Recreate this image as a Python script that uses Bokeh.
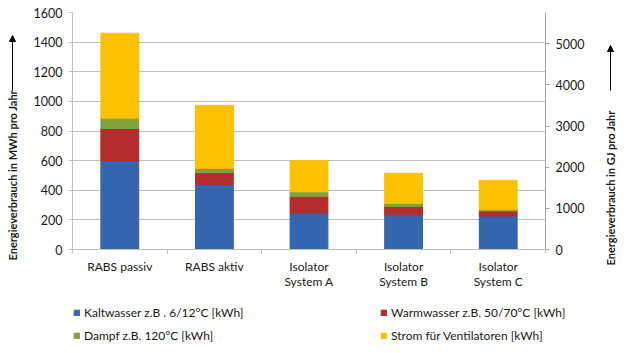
import math
from bokeh.plotting import figure
from bokeh.layouts import column, row
from bokeh.models import (Range1d, LinearAxis, FixedTicker, Legend, LegendItem,
                          Label, Arrow, NormalHead)
from bokeh.embed import file_html
from bokeh.resources import INLINE

categories = ["RABS passiv", "RABS aktiv", "Isolator\nSystem A", "Isolator\nSystem B", "Isolator\nSystem C"]
kaltwasser = [600, 440, 246, 235, 226]
warmwasser = [217, 79, 113, 56, 34]
dampf = [70, 29, 31, 20, 9]
strom = [573, 425, 210, 203, 198]
series_names = ["Kaltwasser z.B . 6/12°C [kWh]", "Warmwasser z.B. 50/70°C [kWh]",
                "Dampf z.B. 120°C [kWh]", "Strom für Ventilatoren [kWh]"]
left_ticks = [0, 200, 400, 600, 800, 1000, 1200, 1400, 1600]
right_ticks = [0, 1000, 2000, 3000, 4000, 5000]
left_title = "Energieverbrauch in MWh pro Jahr"
right_title = "Energieverbrauch in GJ pro Jahr"

colors = ["#3466AE", "#B32E2C", "#83A23E", "#FFC000"]
FONT = "Lato"
TXT = "#1a1a1a"

n = len(categories)
xs = [i + 0.5 for i in range(n)]
data = {"x": xs, "k": kaltwasser, "w": warmwasser, "d": dampf, "s": strom}


def no_align(fig):
    try:
        fig.frame_align = False
    except Exception:
        pass


def blank(width, height):
    f = figure(width=width, height=height, output_backend="svg", toolbar_location=None,
               x_range=Range1d(0, 1), y_range=Range1d(0, 1), min_border=0,
               x_axis_type=None, y_axis_type=None)
    f.outline_line_color = None
    f.grid.grid_line_color = None
    no_align(f)
    return f


def title_fig(width, height, text, tx, ty, a0, a1):
    f = blank(width, height)
    f.add_layout(Label(x=tx, y=ty, x_units="screen", y_units="screen", text=text,
                       angle=math.pi / 2, text_align="left", text_baseline="middle",
                       text_font=FONT, text_font_style="bold", text_font_size="11px",
                       text_color=TXT))
    f.add_layout(Arrow(x_start=tx, y_start=a0, x_end=tx, y_end=a1,
                       start_units="screen", end_units="screen", line_width=1,
                       line_color="black",
                       end=NormalHead(size=6, fill_color="black", line_color="black")))
    return f


p = figure(width=564, height=300, output_backend="svg", toolbar_location=None,
           x_range=Range1d(0, n), y_range=Range1d(0, 1600),
           min_border_left=38, min_border_right=49, min_border_top=12, min_border_bottom=51)
p.outline_line_color = None
p.background_fill_color = "white"
p.border_fill_color = "white"

rs = p.vbar_stack(["k", "w", "d", "s"], x="x", width=0.4, color=colors, source=data)

# y axis (left)
p.yaxis.ticker = FixedTicker(ticks=left_ticks)
p.yaxis.axis_line_color = "#BFBFBF"
p.yaxis.major_tick_line_color = "#BFBFBF"
p.yaxis.major_tick_out = 4
p.yaxis.major_tick_in = 0
p.yaxis.minor_tick_line_color = None
p.yaxis.major_label_text_font = FONT
p.yaxis.major_label_text_font_size = "12.5px"
p.yaxis.major_label_text_color = TXT
p.yaxis.major_label_standoff = 6
p.ygrid.ticker = FixedTicker(ticks=left_ticks)
p.ygrid.grid_line_color = "#BFBFBF"
p.xgrid.grid_line_color = None

# x axis
p.xaxis.ticker = FixedTicker(ticks=xs, minor_ticks=list(range(n + 1)))
p.xaxis.major_label_overrides = {x: c for x, c in zip(xs, categories)}
p.xaxis.major_tick_line_color = None
p.xaxis.major_tick_out = 0
p.xaxis.major_tick_in = 0
p.xaxis.minor_tick_line_color = "#BFBFBF"
p.xaxis.minor_tick_out = 4
p.xaxis.minor_tick_in = 0
p.xaxis.axis_line_color = "#BFBFBF"
p.xaxis.major_label_text_font = FONT
p.xaxis.major_label_text_font_size = "12px"
p.xaxis.major_label_text_color = TXT
p.xaxis.major_label_text_line_height = 1.05
p.xaxis.major_label_standoff = 5

# right axis (GJ)
p.extra_y_ranges = {"gj": Range1d(0, 1600 * 3.6)}
ax = LinearAxis(y_range_name="gj", ticker=FixedTicker(ticks=right_ticks))
ax.axis_line_color = "#A6A6A6"
ax.major_tick_line_color = "#A6A6A6"
ax.major_tick_out = 4
ax.major_tick_in = 0
ax.minor_tick_line_color = None
ax.major_label_text_font = FONT
ax.major_label_text_font_size = "12.5px"
ax.major_label_text_color = TXT
ax.major_label_standoff = 6
p.add_layout(ax, "right")

# axis titles with arrows (narrow strips left and right of the chart)
lt = title_fig(30, 300, left_title, 12, 40, 210, 265)
rt = title_fig(36, 300, right_title, 16, 35, 210, 255)

# legend strip below the chart
lf = figure(width=630, height=53, output_backend="svg", toolbar_location=None,
            x_range=Range1d(100, 101), y_range=Range1d(100000, 100001),
            min_border=0, x_axis_type=None, y_axis_type=None)
no_align(lf)
lf.outline_line_color = None
lf.grid.grid_line_color = None
lrs = lf.vbar_stack(["k", "w", "d", "s"], x="x", width=0.4, color=colors, source=data)
legend = Legend(items=[LegendItem(label=nm, renderers=[r]) for nm, r in zip(series_names, lrs)],
                location=(73, 10), orientation="horizontal", ncols=2,
                glyph_width=7, glyph_height=7, label_standoff=4, label_width=289,
                label_height=16, spacing=7, padding=0, margin=0,
                label_text_font=FONT, label_text_font_size="12px", label_text_color=TXT,
                border_line_color=None, background_fill_alpha=0)
lf.add_layout(legend, "center")

layout = column(row(lt, p, rt, spacing=0), lf, spacing=0)
open("out.html", "w").write(file_html(layout, INLINE))
